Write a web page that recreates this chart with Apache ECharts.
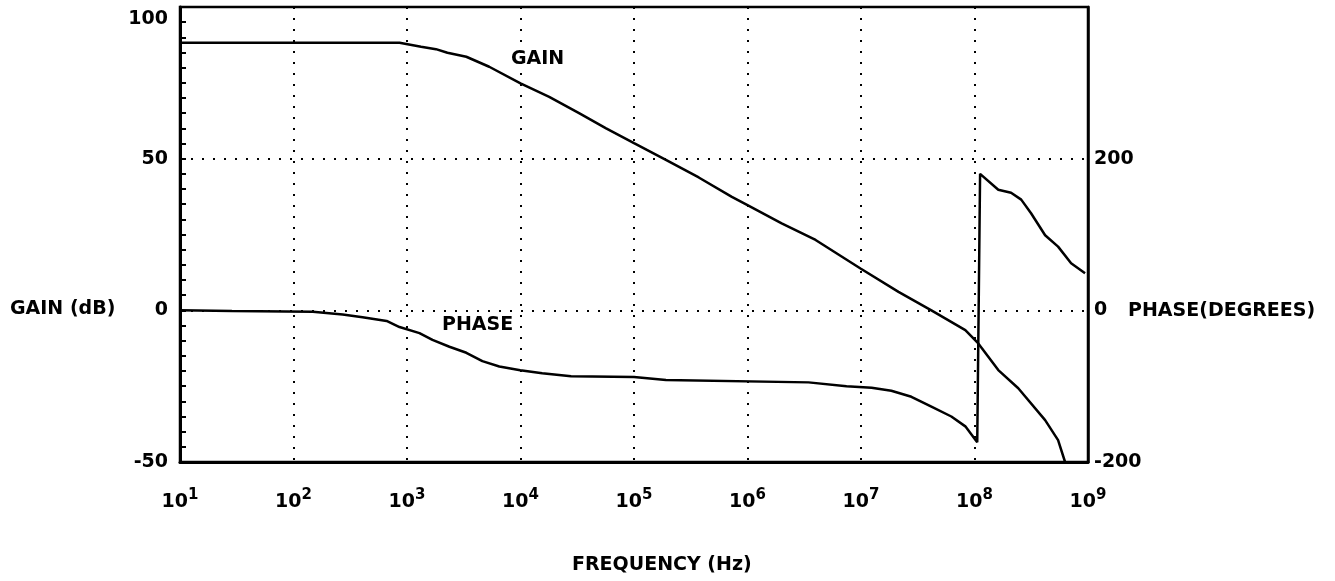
<!DOCTYPE html>
<html>
<head>
<meta charset="utf-8">
<script src="https://cdn.jsdelivr.net/npm/echarts@6/dist/echarts.min.js"></script>
<style>
html,body{margin:0;padding:0;background:#fff;}
#chart{width:1335px;height:581px;}
</style>
</head>
<body>
<div id="chart"></div>
<script>
// ---- data ----
var gainFreq = [10, 860, 1330, 1800, 2270, 3330, 5300, 10000, 17900, 32800, 56800, 100000, 191000, 372000, 728000, 1.0e6, 2.0e6, 3.98e6, 9.9e6, 2.14e7, 4.17e7, 8.3e7, 1.08e8, 1.62e8, 2.43e8, 4.19e8, 5.45e8, 6.28e8];
var gainDb   = [88.2, 88.2, 86.9, 86.1, 84.9, 83.6, 80.3, 74.8, 70.4, 65.0, 60.0, 55.1, 49.6, 43.8, 37.4, 34.7, 28.7, 23.2, 13.8, 6.1, 0, -6.5, -10.9, -19.7, -25.7, -36.2, -42.8, -50];

var phaseFreq = [10, 28.7, 148, 271, 406, 661, 859, 1288, 1676, 2364, 3334, 4613, 6506, 9950, 15530, 27900, 100000, 191000, 3.45e6, 7.46e6, 1.24e7, 1.85e7, 2.78e7, 4.17e7, 6.25e7, 8.3e7, 1.057e8, 1.12e8, 1.62e8, 2.10e8, 2.58e8, 3.15e8, 4.19e8, 5.45e8, 7.10e8, 9.42e8];
var phaseDeg  = [0, -1, -2, -5.5, -9, -14, -22, -30, -39, -48, -56, -67, -74, -79, -83, -87, -88, -92, -95, -100, -102, -106, -114, -127, -140, -153, -174, 180, 159, 155, 146, 128, 99, 84, 62, 49];

var xTickExponents = ['1','2','3','4','5','6','7','8','9'];
var leftTicks = [-50, 0, 50, 100];
var rightTickLabels = {'-200':'-200','0':'0','200':'200'};

function zip(a, b){ var r=[]; for(var i=0;i<a.length;i++) r.push([a[i], b[i]]); return r; }

var FONT = '"DejaVu Sans", "Liberation Sans", Arial, sans-serif';
var chart = echarts.init(document.getElementById('chart'), null, {renderer:'canvas'});
var dotted = {color:'#000', width:2, type:[2,9]};

var option = {
  backgroundColor:'#fff',
  animation:false,
  grid:{left:180, right:247, top:7, bottom:119, show:true, borderColor:'#000', borderWidth:2.5, backgroundColor:'transparent'},
  xAxis:{
    type:'log', logBase:10, min:10, max:1e9, splitNumber:8,
    axisLine:{show:true, onZero:false, lineStyle:{color:'#000', width:3}},
    axisTick:{show:false},
    minorTick:{show:false},
    splitLine:{show:true, lineStyle:dotted},
    axisLabel:{
      margin:26, color:'#000', fontFamily:FONT, showMinLabel:true, showMaxLabel:true,
      formatter:function(v){
        var e = Math.round(Math.log(v)/Math.LN10);
        var s = xTickExponents[e-1] || String(e);
        return '{b|10}{s|' + s + '}';
      },
      rich:{
        b:{fontSize:19, fontWeight:'bold', fontFamily:FONT, color:'#000', lineHeight:28, verticalAlign:'middle'},
        s:{fontSize:15, fontWeight:'bold', fontFamily:FONT, color:'#000', lineHeight:15, verticalAlign:'top'}
      }
    }
  },
  yAxis:[{
    type:'value', min:-50, max:100, interval:50, position:'left',
    axisLine:{show:true, onZero:false, lineStyle:{color:'#000', width:3}},
    axisTick:{show:true, inside:true, length:6, lineStyle:{color:'#000', width:2}},
    minorTick:{show:true, splitNumber:10, length:6, lineStyle:{color:'#000', width:2}},
    splitLine:{show:true, lineStyle:dotted},
    axisLabel:{margin:12, color:'#000', fontSize:19, fontWeight:'bold', fontFamily:FONT,
      formatter:function(v){
        if (leftTicks.indexOf(v) < 0) return '';
        return v === 100 ? '{t|' + v + '}' : String(v);
      },
      rich:{t:{fontSize:19, fontWeight:'bold', fontFamily:FONT, color:'#000', padding:[24,0,0,0]}}
    }
  },{
    type:'value', min:-200, max:400, interval:200, position:'right',
    axisLine:{show:true, onZero:false, lineStyle:{color:'#000', width:2.5}},
    axisTick:{show:false},
    splitLine:{show:false},
    axisLabel:{margin:6, color:'#000', fontSize:19, fontWeight:'bold', fontFamily:FONT,
      formatter:function(v){ return rightTickLabels[String(v)] || ''; }}
  }],
  series:[{
    name:'GAIN', type:'line', yAxisIndex:0, showSymbol:false, symbol:'none',
    lineStyle:{color:'#000', width:2.5}, data:zip(gainFreq, gainDb), clip:true
  },{
    name:'PHASE', type:'line', yAxisIndex:1, showSymbol:false, symbol:'none',
    lineStyle:{color:'#000', width:2.5}, data:zip(phaseFreq, phaseDeg), clip:true
  }],
  graphic:[
    {type:'text', left:10, top:300, style:{text:'GAIN (dB)', font:'bold 19px ' + FONT, fill:'#000'}},
    {type:'text', left:1128, top:302, style:{text:'PHASE(DEGREES)', font:'bold 19px ' + FONT, fill:'#000'}},
    {type:'text', left:572, top:556, style:{text:'FREQUENCY (Hz)', font:'bold 19px ' + FONT, fill:'#000'}},
    {type:'text', left:511, top:50, style:{text:'GAIN', font:'bold 19px ' + FONT, fill:'#000'}},
    {type:'text', left:442, top:316, style:{text:'PHASE', font:'bold 19px ' + FONT, fill:'#000'}}
  ]
};
chart.setOption(option);
</script>
</body>
</html>
